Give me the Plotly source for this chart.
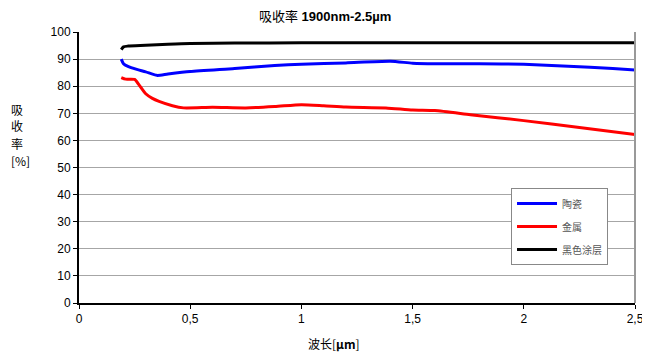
import plotly.graph_objects as go

title_text = "吸收率 <b>1900nm-2.5µm</b>"
x_title = "波长[<b>µm</b>]"
y_title_parts = ["吸", "收", "率", "[%]"]

names = ["陶瓷", "金属", "黑色涂层"]
colors = ["#0000ff", "#ff0000", "#000000"]

ceramic_x = [0.19, 0.20, 0.22, 0.26, 0.30, 0.35, 0.40, 0.50, 0.70, 0.88, 1.00, 1.20, 1.40, 1.50, 1.60, 1.80, 2.00, 2.20, 2.40, 2.50]
ceramic_y = [90.0, 88.3, 87.3, 86.2, 85.3, 84.0, 84.5, 85.4, 86.5, 87.6, 88.1, 88.6, 89.2, 88.5, 88.3, 88.3, 88.1, 87.4, 86.5, 86.0]

metal_x = [0.19, 0.21, 0.25, 0.27, 0.30, 0.33, 0.36, 0.42, 0.47, 0.60, 0.75, 0.88, 1.00, 1.10, 1.20, 1.38, 1.50, 1.60, 1.76, 2.00, 2.25, 2.50]
metal_y = [83.2, 82.6, 82.5, 80.5, 77.2, 75.5, 74.4, 72.8, 72.0, 72.2, 72.0, 72.5, 73.2, 72.8, 72.3, 72.0, 71.2, 71.0, 69.5, 67.3, 64.8, 62.2]

black_x = [0.19, 0.20, 0.22, 0.30, 0.40, 0.50, 0.70, 1.00, 1.50, 2.00, 2.50]
black_y = [93.5, 94.5, 94.8, 95.1, 95.5, 95.8, 95.9, 96.0, 96.0, 96.0, 96.0]

x_ticks = [0, 0.5, 1, 1.5, 2, 2.5]
y_ticks = [0, 10, 20, 30, 40, 50, 60, 70, 80, 90, 100]

series = [(ceramic_x, ceramic_y), (metal_x, metal_y), (black_x, black_y)]

fig = go.Figure()
for (xs, ys), name, c in zip(series, names, colors):
    fig.add_trace(go.Scatter(
        x=xs, y=ys, mode="lines", name=name, legendgroup=name,
        line=dict(color=c, width=3, shape="spline", smoothing=0.6),
    ))

fig.update_layout(
    width=642, height=351,
    margin=dict(l=71, r=15, t=24, b=56, autoexpand=False),
    paper_bgcolor="white", plot_bgcolor="white",
    separators=",.",
    font=dict(family="Liberation Sans, Noto Sans CJK SC, sans-serif", size=12, color="black"),
    title=dict(text=title_text, x=0.494, xanchor="center", y=0.977, yanchor="middle",
               automargin=False,
               font=dict(size=13, family="Liberation Sans, Noto Sans CJK SC, sans-serif")),
    xaxis=dict(range=[0, 2.5], tickvals=x_ticks, ticks="outside", ticklen=4,
               tickcolor="black", showline=True, linecolor="black", linewidth=2,
               showgrid=False, zeroline=False, automargin=False),
    yaxis=dict(range=[0, 100], tickvals=y_ticks, ticks="outside", ticklen=4,
               tickcolor="black", showline=True, linecolor="black", linewidth=2,
               showgrid=True, gridcolor="#a6a6a6", gridwidth=1, zeroline=False,
               automargin=False),
    legend=dict(x=0.777, y=0.424, xanchor="left", yanchor="top",
                bordercolor="#888888", borderwidth=1, bgcolor="white",
                font=dict(size=10, color="#555555", family="Noto Sans CJK SC"),
                tracegroupgap=4, itemwidth=40),
    showlegend=True,
)

fig.add_shape(type="line", xref="paper", yref="paper", x0=1, x1=1, y0=0, y1=1,
              line=dict(color="#999999", width=2))

# y-axis title, stacked characters
y_rows_px = [109, 126, 143, 160]
for part, py in zip(y_title_parts, y_rows_px):
    fig.add_annotation(text=part, xref="paper", yref="paper", x=-0.126,
                       y=(303 - py) / 271.0,
                       xanchor="left", yanchor="middle", showarrow=False,
                       align="left", font=dict(size=12, family="Noto Sans CJK SC"))

fig.add_annotation(text=x_title, xref="paper", yref="paper", x=0.459, y=-0.148,
                   xanchor="center", yanchor="middle", showarrow=False,
                   font=dict(size=12, family="Noto Sans CJK SC"))

fig.write_html("out.html")
